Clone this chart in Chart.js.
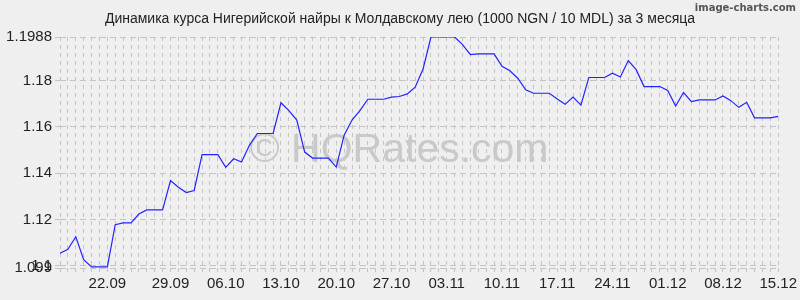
<!DOCTYPE html>
<html>
<head>
<meta charset="utf-8">
<script src="https://cdn.jsdelivr.net/npm/chart.js@4/dist/chart.umd.min.js"></script>
<style>
  body { margin: 0; background: #efefef; }
  #wrap { width: 800px; height: 300px; }
</style>
</head>
<body>
<div id="wrap"><canvas id="rateChart" width="800" height="300"></canvas></div>
<script>
// x labels, one slot per daily point, only the shown dates are filled
const dayLabels = [
  '', '', '', '', '', '', '22.09', '', '', '', '', '', '', '',
  '29.09', '', '', '', '', '', '', '06.10', '', '', '', '', '', '',
  '13.10', '', '', '', '', '', '', '20.10', '', '', '', '', '', '',
  '27.10', '', '', '', '', '', '', '03.11', '', '', '', '', '', '',
  '10.11', '', '', '', '', '', '', '17.11', '', '', '', '', '', '',
  '24.11', '', '', '', '', '', '', '01.12', '', '', '', '', '', '',
  '08.12', '', '', '', '', '', '', '15.12'
];

// 1000 NGN / 10 MDL
const rates = [
  1.1054, 1.1071, 1.1125, 1.1026, 1.0995, 1.0995, 1.0995, 1.1177, 1.1185, 1.1185,
  1.1223, 1.1241, 1.1241, 1.1241, 1.1368, 1.1339, 1.1316, 1.1325, 1.1480, 1.1480,
  1.1480, 1.1425, 1.1462, 1.1448, 1.1520, 1.1571, 1.1571, 1.1571, 1.1704, 1.1670,
  1.1629, 1.1491, 1.1465, 1.1465, 1.1465, 1.1426, 1.1564, 1.1629, 1.1670, 1.1719,
  1.1719, 1.1719, 1.1728, 1.1731, 1.1742, 1.1771, 1.1850, 1.1988, 1.1988, 1.1988,
  1.1988, 1.1955, 1.1912, 1.1915, 1.1915, 1.1915, 1.1861, 1.1842, 1.1810, 1.1760,
  1.1745, 1.1745, 1.1745, 1.1720, 1.1697, 1.1728, 1.1694, 1.1813, 1.1813, 1.1813,
  1.1832, 1.1815, 1.1886, 1.1847, 1.1774, 1.1774, 1.1774, 1.1757, 1.1690, 1.1748,
  1.1709, 1.1716, 1.1716, 1.1716, 1.1733, 1.1713, 1.1684, 1.1706, 1.1639, 1.1639,
  1.1639, 1.1645
];

const yTicks = [1.099, 1.1, 1.12, 1.14, 1.16, 1.18, 1.1988];
const yTickLabels = ['1.099', '1.1', '1.12', '1.14', '1.16', '1.18', '1.1988'];

const titleText = 'Динамика курса Нигерийской найры к Молдавскому лею (1000 NGN / 10 MDL) за 3 месяца';

// background, title, watermark and credit text
const extras = {
  id: 'extras',
  beforeDraw(chart) {
    const ctx = chart.ctx;
    ctx.save();
    ctx.fillStyle = '#efefef';
    ctx.fillRect(0, 0, chart.width, chart.height);
    ctx.font = '14px "Liberation Sans", Arial, sans-serif';
    ctx.fillStyle = '#222';
    ctx.textAlign = 'center';
    ctx.textBaseline = 'middle';
    ctx.fillText(titleText, 400, 19);
    ctx.restore();
  },
  beforeDatasetsDraw(chart) {
    const ctx = chart.ctx;
    ctx.save();
    ctx.font = '41px "Liberation Sans", Arial, sans-serif';
    ctx.fillStyle = '#c9c9c9';
    ctx.textAlign = 'center';
    ctx.textBaseline = 'alphabetic';
    ctx.fillText('© HQRates.com', 399, 162);
    ctx.restore();
  },
  afterDraw(chart) {
    const ctx = chart.ctx;
    ctx.save();
    ctx.font = 'bold 10px "DejaVu Sans", sans-serif';
    ctx.fillStyle = '#555';
    ctx.textAlign = 'right';
    ctx.textBaseline = 'middle';
    ctx.fillText('image-charts.com', 796, 8);
    ctx.restore();
  }
};

const chart = new Chart('rateChart', {
  type: 'line',
  data: {
    labels: dayLabels,
    datasets: [{
      data: rates,
      borderColor: '#2222ff',
      borderWidth: 1.2,
      pointRadius: 0,
      tension: 0,
      fill: false
    }]
  },
  options: {
    responsive: false,
    animation: false,
    layout: { padding: { left: 0, right: 21, top: 37, bottom: 4 } },
    plugins: {
      legend: { display: false },
      tooltip: { enabled: false },
      title: { display: false }
    },
    scales: {
      x: {
        offset: false,
        grid: { color: '#c4c4c4', tickLength: 4 },
        border: { display: false, dash: [4, 4] },
        ticks: {
          autoSkip: false,
          maxRotation: 0,
          minRotation: 0,
          padding: 3,
          color: '#222',
          font: { family: '"Liberation Sans", Arial, sans-serif', size: 15 },
          callback: (v, i) => dayLabels[i]
        }
      },
      y: {
        min: 1.099,
        max: 1.1988,
        afterBuildTicks: (scale) => { scale.ticks = yTicks.map(v => ({ value: v })); },
        afterFit: (scale) => { scale.width = 60; },
        grid: { color: '#c4c4c4', tickLength: 5 },
        border: { display: false, dash: [6, 4] },
        ticks: {
          autoSkip: false,
          padding: 3,
          color: '#222',
          font: { family: '"Liberation Sans", Arial, sans-serif', size: 15 },
          callback: (v, i) => yTickLabels[i]
        }
      }
    }
  },
  plugins: [extras]
});
</script>
</body>
</html>
